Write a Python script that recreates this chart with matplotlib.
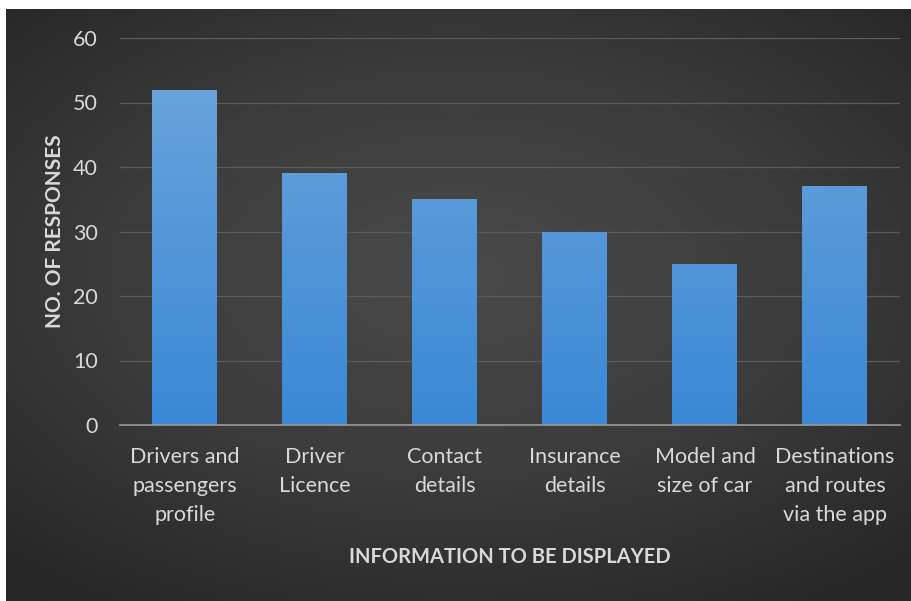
import numpy as np
import matplotlib
matplotlib.use("Agg")
import matplotlib.pyplot as plt
from matplotlib.colors import LinearSegmentedColormap

plt.rcParams["font.family"] = ["Lato", "DejaVu Sans"]

categories = ["Drivers and\npassengers\nprofile", "Driver\nLicence", "Contact\ndetails",
              "Insurance\ndetails", "Model and\nsize of car", "Destinations\nand routes\nvia the app"]
responses = [52, 39, 35, 30, 25, 37]
yticks = [0, 10, 20, 30, 40, 50, 60]

TXT = "#d9d9d9"
W, H = 912, 601
fig = plt.figure(figsize=(W / 100, H / 100), dpi=100)
fig.patch.set_facecolor("white")

# radial-ish dark background
bg = fig.add_axes([6 / W, 0, 1 - 6 / W, 1 - 9 / H])
bg.set_axis_off()
yy, xx = np.mgrid[-1:1:300j, -1:1:450j]
r = np.sqrt((xx * 0.9) ** 2 + ((yy + 0.1) * 1.0) ** 2)
bgmap = LinearSegmentedColormap.from_list("bg", ["#4a4a4a", "#3c3c3c", "#262626"])
bg.imshow(r, cmap=bgmap, vmin=0, vmax=1.35, aspect="auto", extent=[0, 1, 0, 1])
bg.set_xlim(0, 1); bg.set_ylim(0, 1)

ax = fig.add_axes([120 / W, (H - 425) / H, 780 / W, (425 - 38) / H])
ax.patch.set_alpha(0)
x = np.arange(len(categories))
bars = ax.bar(x, responses, width=0.5, color="#5b9bd5", zorder=2)

barmap = LinearSegmentedColormap.from_list("bar", ["#3a88d6", "#6fa7dc"])
grad = np.linspace(0, 1, 256).reshape(-1, 1)
for b in bars:
    im = ax.imshow(grad, cmap=barmap, origin="lower", aspect="auto", zorder=3,
                   extent=[b.get_x(), b.get_x() + b.get_width(), 0, 60])
    im.set_clip_path(b)

ax.set_xlim(-0.5, len(categories) - 0.5)
ax.set_ylim(0, 60)
ax.set_yticks(yticks)
ax.yaxis.grid(True, color="#5c5c5c", lw=0.9, zorder=0)
ax.set_axisbelow(True)
for s in ["top", "right", "left"]:
    ax.spines[s].set_visible(False)
ax.spines["bottom"].set_color("#9a9a9a")
ax.spines["bottom"].set_linewidth(1.2)
ax.spines["bottom"].set_zorder(4)
ax.tick_params(length=0, colors=TXT, labelsize=15.5)
ax.tick_params(axis="y", pad=16)
ax.tick_params(axis="x", pad=16)
ax.set_xticks(x)
ax.set_xticklabels(categories, linespacing=1.55)

ax.set_ylabel("NO. OF RESPONSES", color=TXT, fontsize=15, fontweight="bold",
              labelpad=6)
ax.set_xlabel("INFORMATION TO BE DISPLAYED", color=TXT, fontsize=14.5,
              fontweight="bold", labelpad=16)

fig.savefig("out.png", dpi=100)
